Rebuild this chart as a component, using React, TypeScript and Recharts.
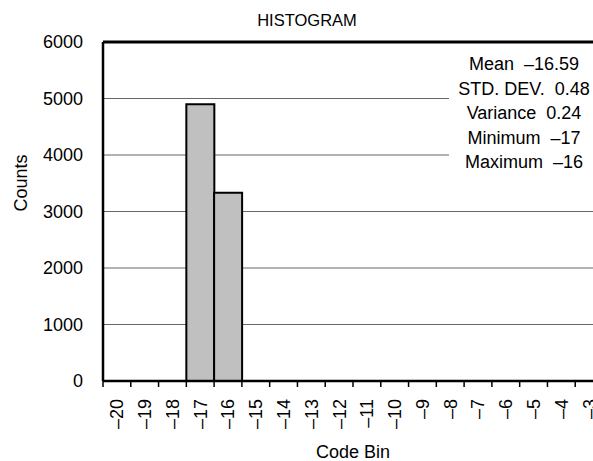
import React from "react";
import { BarChart, Bar, XAxis, YAxis, CartesianGrid, ReferenceLine, Label } from "recharts";

const bins = [-20, -19, -18, -17, -16, -15, -14, -13, -12, -11, -10, -9, -8, -7, -6, -5, -4, -3];
const counts = [0, 0, 0, 4900, 3330, 0, 0, 0, 0, 0, 0, 0, 0, 0, 0, 0, 0, 0];
const yTicks = [0, 1000, 2000, 3000, 4000, 5000, 6000];
const stats = ["Mean  \u201316.59", "STD. DEV.  0.48", "Variance  0.24", "Minimum  \u201317", "Maximum  \u201316"];

const data = bins.map((b, i) => ({ bin: b, count: counts[i] }));

const FONT = "Arial, 'Liberation Sans', Helvetica, sans-serif";
const W = 625;
const H = 461;
const LEFT = 103;
const RIGHT = 603;
const BW = (RIGHT - LEFT) / bins.length;

const fmt = (v: number) => (v < 0 ? "\u2013" + Math.abs(v) : String(v));

const BinTick = (props: any) => {
  const { x, y, payload, index } = props;
  return (
    <g>
      <line x1={x - BW / 2} x2={x - BW / 2} y1={y} y2={y + 6} stroke="#000" strokeWidth={1.5} />
      {index === bins.length - 1 && (
        <line x1={x + BW / 2} x2={x + BW / 2} y1={y} y2={y + 6} stroke="#000" strokeWidth={1.5} />
      )}
      <text
        x={0}
        y={0}
        transform={`translate(${x},${y}) rotate(-90)`}
        dx={-18}
        dy="0.36em"
        textAnchor="end"
        fontSize={18}
        fontFamily={FONT}
        fill="#000"
      >
        {fmt(payload.value)}
      </text>
    </g>
  );
};

export default function App() {
  return (
    <div style={{ position: "absolute", left: 0, top: 0, width: 593, height: 461, overflow: "hidden", background: "#fff" }}>
      <div style={{ position: "absolute", left: 207, top: 10, width: 200, textAlign: "center", fontFamily: FONT, fontSize: 16.5, lineHeight: "20px" }}>
        HISTOGRAM
      </div>
      <BarChart
        width={W}
        height={H}
        data={data}
        margin={{ top: 42, right: W - RIGHT, bottom: 0, left: 0 }}
        barCategoryGap={0}
        barGap={0}
        style={{ fontFamily: FONT }}
      >
        <CartesianGrid vertical={false} stroke="#666" strokeWidth={1} />
        <XAxis
          dataKey="bin"
          type="category"
          tickLine={false}
          tickSize={0}
          tickMargin={0}
          interval={0}
          axisLine={{ stroke: "#000", strokeWidth: 2.5 }}
          tick={<BinTick />}
          height={80}
        >
          <Label value="Code Bin" position="insideBottom" offset={3} fontSize={18} fill="#000" fontFamily={FONT} />
        </XAxis>
        <YAxis
          domain={[0, 6000]}
          ticks={yTicks}
          interval={0}
          width={LEFT}
          tickLine={false}
          tickSize={0}
          tickMargin={20}
          axisLine={{ stroke: "#000", strokeWidth: 2.5 }}
          tick={{ fontSize: 18, fill: "#000", fontFamily: FONT }}
        >
          <Label value="Counts" angle={-90} position="insideLeft" offset={21} fontSize={18} fill="#000" fontFamily={FONT} />
        </YAxis>
        <ReferenceLine y={6000} stroke="#000" strokeWidth={3} />
        <Bar dataKey="count" fill="#c0c0c0" stroke="#000" strokeWidth={2} isAnimationActive={false} />
      </BarChart>
      <div
        style={{
          position: "absolute",
          left: 449,
          top: 52,
          width: 150,
          background: "#fff",
          fontFamily: FONT,
          fontSize: 18,
          lineHeight: "24.5px",
          textAlign: "center",
          whiteSpace: "pre",
        }}
      >
        {stats.map((s) => (
          <div key={s}>{s}</div>
        ))}
      </div>
    </div>
  );
}
